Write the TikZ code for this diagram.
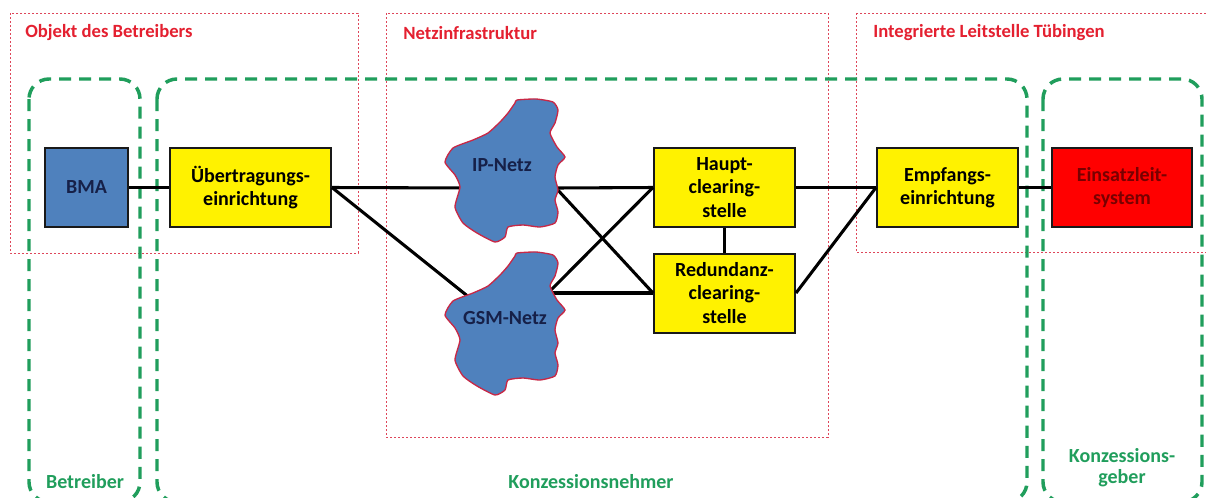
\documentclass[tikz,border=0pt]{standalone}
\usepackage{fontspec}
\setmainfont{Carlito}
\begin{document}
\begin{tikzpicture}[x=0.75pt,y=-0.75pt]
\definecolor{grn}{RGB}{32,158,92}
\definecolor{rdot}{RGB}{222,70,90}
\definecolor{rtitle}{RGB}{228,32,48}
\definecolor{bluefill}{RGB}{79,129,189}
\definecolor{navy}{RGB}{22,32,72}
\definecolor{cloudedge}{RGB}{200,40,70}
\definecolor{ered}{RGB}{255,0,0}
\definecolor{etext}{RGB}{120,0,0}
\tikzset{
  grpbox/.style={draw=grn,line width=2.6pt,dash pattern=on 9pt off 6pt,rounded corners=15pt},
  areabox/.style={draw=rdot,line width=0.6pt,dash pattern=on 1.8pt off 1.2pt},
  areatitle/.style={text=rtitle,font=\bfseries\fontsize{14}{16}\selectfont,anchor=west,inner sep=0pt},
  grplabel/.style={text=grn,font=\bfseries\fontsize{15}{16}\selectfont,align=center,inner sep=0pt},
  unit/.style={draw=black!90,line width=1.5pt,minimum height=59.25pt,inner sep=0pt,align=center,
    font=\bfseries\fontsize{15}{17.5}\selectfont},
  ybox/.style={unit,fill=yellow,minimum width=105.75pt},
  link/.style={line width=2.3pt,black},
  cloudshape/.style={fill=bluefill,draw=cloudedge,line width=1pt},
  cloudtext/.style={text=navy,font=\bfseries\fontsize{15}{17}\selectfont,inner sep=0pt}
}
\clip (0,0) rectangle (1206,497);
\useasboundingbox (0,0) rectangle (1206,497);
\fill[white] (0,0) rectangle (1206,497);

% red dotted areas
\draw[areabox] (10,13) rectangle (358,253);
\draw[areabox] (386,13) rectangle (828,437);
\draw[areabox] (856,13) rectangle (1212,252);
\node[areatitle] (t1) at (25,33) {Objekt des Betreibers};
\node[areatitle] (t2) at (403,33) {Netzinfrastruktur};
\node[areatitle] (t3) at (873,33) {Integrierte Leitstelle Tübingen};

% green dashed groups
\draw[grpbox] (29,79) rectangle (140,502);
\draw[grpbox] (157,79) rectangle (1027,502);
\draw[grpbox] (1043,79) rectangle (1202,502);
\node[grplabel] (g1) at (85,482) {Betreiber};
\node[grplabel] (g2) at (591,482) {Konzessionsnehmer};
\node[grplabel] (g3) at (1122,468) {Konzessions-\\geber};

% units
\node[unit,fill=bluefill,text=navy,minimum width=62.25pt] (bma) at (86.5,187.5) {BMA};
\node[ybox,minimum width=120.75pt] (ue) at (250.5,187.5) {Übertragungs-\\einrichtung};
\node[ybox] (haupt) at (724.5,187.5) {Haupt-\\clearing-\\stelle};
\node[ybox] (red) at (724.5,293) {Redundanz-\\clearing-\\stelle};
\node[ybox] (emp) at (947.5,187.5) {Empfangs-\\einrichtung};
\node[unit,fill=ered,text=etext,minimum width=105pt] (els) at (1122,187.5) {Einsatzleit-\\system};

% connection points on the clouds
\coordinate (ipL) at (470,188);
\coordinate (ipR) at (556,188);
\coordinate (gsmL) at (470,298);
\coordinate (gsmR) at (548,293);

% connectors
\draw[link] (bma.east) -- (ue.west);
\draw[link] (ue.east) -- (ipL);
\draw[link] (ue.east) -- (gsmL);
\draw[link] (ipR) -- (haupt.west);
\draw[link] (ipR) -- (red.west);
\draw[link] (gsmR) -- (haupt.west);
\draw[link] (gsmR) -- (red.west);
\draw[link] (haupt.south) -- (red.north);
\draw[link] (haupt.east) -- (emp.west);
\draw[link] (red.east) -- (emp.west);
\draw[link] (emp.east) -- (els.west);

% clouds
\def\cloudpts{(517,100) (536,99) (553,102) (558,110) (555,123) (550,133) (557,147) (565,157) (558,165) (555,177) (558,190) (555,200) (558,212) (555,223) (540,227) (523,225) (508,227) (505,237) (495,242) (477,233) (463,223) (455,207) (460,187) (455,175) (445,162) (453,148) (473,140) (488,133) (500,122) (508,113) (515,103)}
\draw[cloudshape] plot[smooth cycle,tension=0.35] coordinates {\cloudpts};
\begin{scope}[yshift=-153*0.75pt]
\draw[cloudshape] plot[smooth cycle,tension=0.35] coordinates {\cloudpts};
\end{scope}
\node[cloudtext] (ip) at (502,165) {IP-Netz};
\node[cloudtext] (gsm) at (505,318) {GSM-Netz};
\end{tikzpicture}
\end{document}
